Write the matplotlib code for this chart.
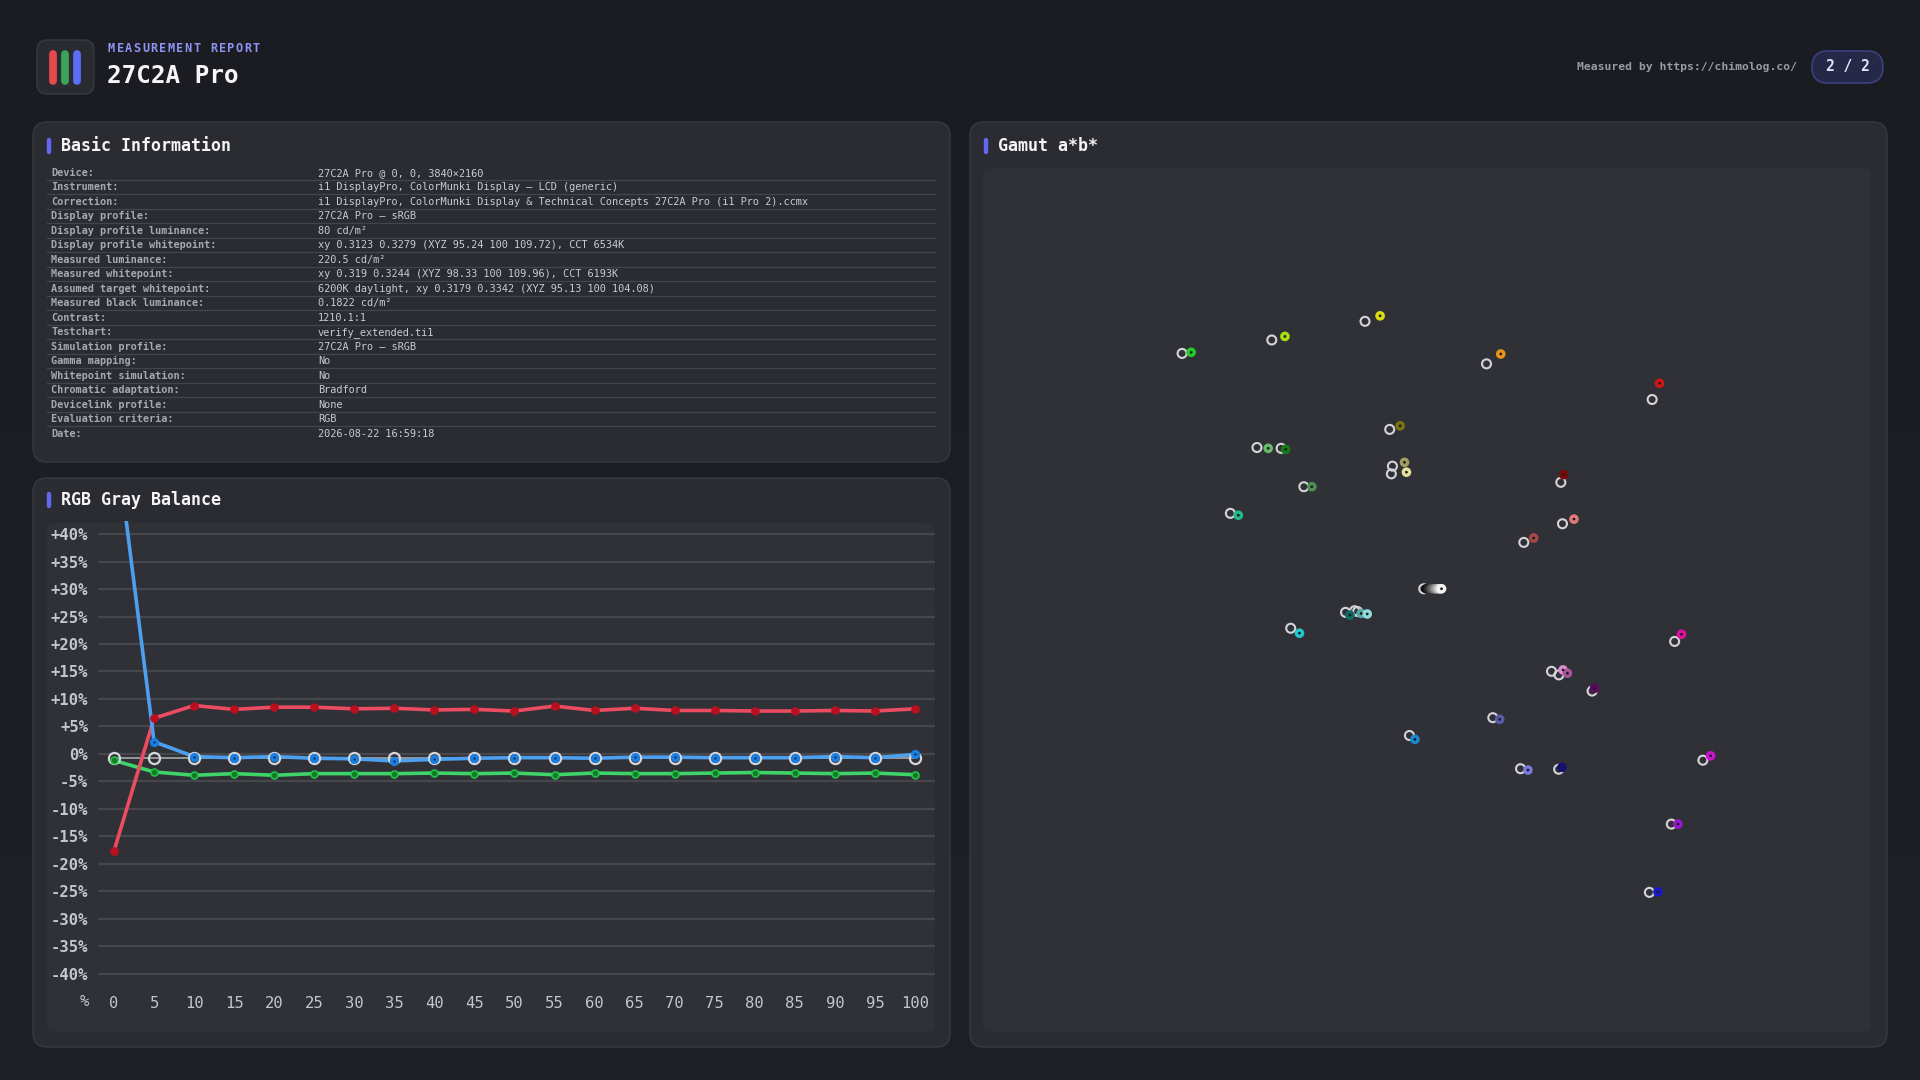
import numpy as np
import matplotlib
matplotlib.use('Agg')
import matplotlib.pyplot as plt
from matplotlib.patches import FancyBboxPatch

W, H = 1920, 1080
MONO = 'DejaVu Sans Mono'

# ---- header text
report_label = 'MEASUREMENT REPORT'
device_name = '27C2A Pro'
credit = 'Measured by https://chimolog.co/'
page_label = '2 / 2'

# ---- basic information table
info_keys = ['Device:', 'Instrument:', 'Correction:', 'Display profile:',
             'Display profile luminance:', 'Display profile whitepoint:',
             'Measured luminance:', 'Measured whitepoint:',
             'Assumed target whitepoint:', 'Measured black luminance:',
             'Contrast:', 'Testchart:', 'Simulation profile:', 'Gamma mapping:',
             'Whitepoint simulation:', 'Chromatic adaptation:',
             'Devicelink profile:', 'Evaluation criteria:', 'Date:']
info_values = ['27C2A Pro @ 0, 0, 3840×2160',
               'i1 DisplayPro, ColorMunki Display – LCD (generic)',
               'i1 DisplayPro, ColorMunki Display & Technical Concepts 27C2A Pro (i1 Pro 2).ccmx',
               '27C2A Pro – sRGB',
               '80 cd/m²',
               'xy 0.3123 0.3279 (XYZ 95.24 100 109.72), CCT 6534K',
               '220.5 cd/m²',
               'xy 0.319 0.3244 (XYZ 98.33 100 109.96), CCT 6193K',
               '6200K daylight, xy 0.3179 0.3342 (XYZ 95.13 100 104.08)',
               '0.1822 cd/m²',
               '1210.1:1',
               'verify_extended.ti1',
               '27C2A Pro – sRGB',
               'No', 'No', 'Bradford', 'None', 'RGB',
               '2026-08-22 16:59:18']

# ---- RGB gray balance (% deviation per gray level)
gray_levels = [0, 5, 10, 15, 20, 25, 30, 35, 40, 45, 50,
               55, 60, 65, 70, 75, 80, 85, 90, 95, 100]
red_dev = [-17.7, 6.5, 8.8, 8.1, 8.5, 8.5, 8.2, 8.3, 8.0, 8.1, 7.8,
           8.7, 7.9, 8.3, 7.9, 7.9, 7.8, 7.8, 7.9, 7.8, 8.2]
green_dev = [-1.2, -3.3, -3.9, -3.6, -3.9, -3.6, -3.6, -3.6, -3.5, -3.6, -3.5,
             -3.8, -3.5, -3.6, -3.6, -3.5, -3.4, -3.5, -3.6, -3.5, -3.8]
blue_dev = [60.0, 2.2, -0.5, -0.7, -0.5, -0.8, -0.9, -1.3, -1.0, -0.8, -0.7,
            -0.7, -0.8, -0.6, -0.6, -0.7, -0.7, -0.7, -0.5, -0.7, -0.1]
ref_dev = [-0.7, -0.7, -0.7, -0.7, -0.7, -0.7, -0.7, -0.7, -0.7, -0.7, -0.7,
           -0.7, -0.7, -0.7, -0.7, -0.7, -0.7, -0.7, -0.7, -0.7, -0.7]

# ---- gamut a*b* (reference vs measured)
ref_a = [-91.5, -58.8, -24.8, 19.5, 79.9, -15.8, -64.2, -55.4, -14.8, -15.2,
         -47.1, -73.9, 46.6, 47.2, 33.1, -31.9, -28.6, -27.5, -51.9, 88.1,
         43.2, 45.9, 58.0, 21.8, -8.6, 31.9, 45.8, 98.4, 86.9, 78.9]
ref_b = [85.8, 90.7, 97.5, 82.0, 69.0, 58.1, 51.5, 51.2, 44.7, 41.9,
         37.2, 27.5, 38.8, 23.7, 16.9, -8.6, -8.0, -8.3, -14.4, -19.2,
         -30.1, -31.4, -37.3, -47.0, -53.5, -65.6, -65.8, -62.5, -85.8, -110.7]
meas_a = [-88.2, -54.0, -19.3, 24.7, 82.6, -12.0, -60.1, -53.7, -10.4, -9.7,
          -44.2, -71.0, 47.6, 51.4, 36.7, -30.3, -26.2, -24.0, -48.7, 90.6,
          47.4, 49.0, 58.9, 24.3, -6.6, 34.6, 47.0, 101.2, 89.3, 82.0]
meas_b = [86.2, 92.0, 99.5, 85.6, 74.9, 59.4, 51.2, 50.8, 46.1, 42.5,
          37.2, 26.8, 41.6, 25.4, 18.5, -9.6, -9.0, -9.2, -16.2, -16.6,
          -29.6, -30.8, -36.3, -47.6, -54.9, -66.1, -65.1, -60.9, -85.8, -110.5]
meas_colors = ['#22cc22', '#aadd11', '#dddd11', '#e8961a', '#d01515',
               '#7a7410', '#66bb66', '#147a14', '#a09a60', '#e6e29a',
               '#4f8f4f', '#22bb88', '#7a0a0a', '#e07a7a', '#aa4848',
               '#0f6a6a', '#5aa5a5', '#8fdcdc', '#22c8cc', '#dd1199',
               '#e08ad0', '#a65596', '#5a0a5a', '#5a5aaa', '#1a88d0',
               '#7a7ad8', '#14107a', '#cc14cc', '#9a18cc', '#1a18cc']
gray_ref_a = [-3.4]
gray_ref_b = [0.0]
gray_a = [-2.5, -2.0, -1.4, -0.8, -0.2, 0.4, 1.0, 1.6, 2.2, 2.7, 3.1]
gray_b = [0.0, 0.0, 0.0, 0.0, 0.0, 0.0, 0.0, 0.0, 0.0, 0.0, 0.0]
gray_colors = ['#080808', '#1c1c1c', '#303030', '#484848', '#606060', '#7a7a7a',
               '#949494', '#b0b0b0', '#cacaca', '#e2e2e2', '#f4f4f4']

PAGE = '#1d1e23'
CARD = '#2b2c31'
CARD_EDGE = '#393a40'
INNER = '#303137'
ACCENT = '#6366f1'

fig = plt.figure(figsize=(W / 100, H / 100), dpi=100)
fig.patch.set_facecolor(PAGE)

# background layer in pixel coordinates
bg = fig.add_axes([0, 0, 1, 1])
bg.set_xlim(0, W)
bg.set_ylim(H, 0)
bg.axis('off')
grad = np.linspace(0, 1, 256)[:, None] * np.ones((1, 4))
bg.imshow(grad, extent=(0, W, H, 0), cmap=matplotlib.colors.LinearSegmentedColormap.from_list(
    'pg', ['#1b1c22', '#202126']), aspect='auto', zorder=0)


def rbox(x0, y0, x1, y1, r, fc, ec=None, lw=1.0, z=1):
    bg.add_patch(FancyBboxPatch((x0, y0), x1 - x0, y1 - y0,
                                boxstyle=f'round,pad=0,rounding_size={r}',
                                fc=fc, ec=ec if ec else 'none', lw=lw, zorder=z))


def card_title(x, y, text):
    bg.plot([x, x], [y - 6, y + 6], color=ACCENT, lw=3.2, solid_capstyle='round', zorder=3)
    bg.text(x + 12, y, text, color='#f4f4f6', fontsize=12, fontweight='bold',
            family=MONO, va='center', ha='left', zorder=3)


# header
rbox(37, 40, 94, 94, 10, '#2a2b30', '#3a3b41', 1.0, 2)
for bx, bc in zip([53, 65, 77], ['#e5484d', '#3aa55a', '#5b6ef5']):
    bg.plot([bx, bx], [54, 81], color=bc, lw=5.6, solid_capstyle='round', zorder=3)
for i, ch in enumerate(report_label):
    bg.text(108 + i * 8.5, 49, ch, color='#8e93f3', fontsize=8.6, fontweight='bold',
            family=MONO, va='center', ha='left', zorder=3)
bg.text(107, 76, device_name, color='#f6f6f8', fontsize=17.5, fontweight='bold',
        family=MONO, va='center', ha='left', zorder=3)
bg.text(1797, 67, credit, color='#9a9ca3', fontsize=8.2, fontweight='bold',
        family=MONO, va='center', ha='right', zorder=3)
rbox(1812, 51, 1883, 83, 16, '#252846', '#3c4180', 1.2, 2)
bg.text(1847.5, 67, page_label, color='#e0e3ff', fontsize=10.5, fontweight='bold',
        family=MONO, va='center', ha='center', zorder=3)

# cards
rbox(33, 122, 950, 462, 14, CARD, CARD_EDGE, 1.0)
rbox(33, 478, 950, 1047, 14, CARD, CARD_EDGE, 1.0)
rbox(970, 122, 1887, 1047, 14, CARD, CARD_EDGE, 1.0)
card_title(49, 146, 'Basic Information')
card_title(49, 500, 'RGB Gray Balance')
card_title(986, 146, 'Gamut a*b*')
rbox(47, 523, 935, 1032, 8, INNER, z=1.5)
rbox(983, 168, 1871, 1032, 8, INNER, z=1.5)

# info table
row0, row_h = 172.7, 14.49
for i, (k, v) in enumerate(zip(info_keys, info_values)):
    y = row0 + i * row_h
    bg.text(51, y, k, color='#a6a9b0', fontsize=7.4, fontweight='bold',
            family=MONO, va='center', ha='left', zorder=3)
    bg.text(318, y, v, color='#c9cbd1', fontsize=7.4,
            family=MONO, va='center', ha='left', zorder=3)
    if i < len(info_keys) - 1:
        bg.plot([47, 935], [y + row_h / 2, y + row_h / 2], color='#44454b', lw=0.9, zorder=2)

# ---- gray balance axes
ax = fig.add_axes([98 / W, 1 - 990 / H, (935 - 98) / W, (990 - 521) / H])
ax.set_facecolor('none')
ax.set_xlim(-2.0, 102.5)
ax.set_ylim(-43.0, 42.4)
yt = list(range(-40, 45, 5))
ax.set_yticks(yt)
ax.set_yticklabels([('0%' if v == 0 else f'{v:+d}%') for v in yt])
ax.set_xticks(gray_levels)
ax.set_xticklabels([str(v) for v in gray_levels])
ax.tick_params(length=0, colors='#c3c6ce')
ax.tick_params(axis='y', pad=7)
ax.tick_params(axis='x', pad=4)
for lb in ax.get_yticklabels():
    lb.set_fontfamily(MONO)
    lb.set_fontsize(11.2)
    lb.set_fontweight('bold')
for lb in ax.get_xticklabels():
    lb.set_fontfamily(MONO)
    lb.set_fontsize(11.2)
ax.grid(axis='y', color='#46474d', lw=1.6)
ax.set_axisbelow(True)
for s in ax.spines.values():
    s.set_visible(False)
bg.text(89, 1001.5, '%', color='#c3c6ce', fontsize=11.2, family=MONO,
        va='center', ha='right', zorder=3)

ax.plot(gray_levels, ref_dev, color='#a8a8ac', lw=1.2, zorder=2)
ax.plot(gray_levels, green_dev, color='#3fd46a', lw=2.6, zorder=3)
ax.plot(gray_levels, red_dev, color='#ec4c62', lw=2.6, zorder=3)
ax.plot(gray_levels, blue_dev, color='#4d9ff0', lw=2.6, zorder=4)
ax.plot(gray_levels, ref_dev, ls='none', marker='o', ms=8.0, mfc='none',
        mec='#d6d6da', mew=1.6, zorder=5)
ax.plot(gray_levels, red_dev, ls='none', marker='o', ms=5.2, mfc='#b8101e',
        mec='#b8101e', zorder=6)
ax.plot(gray_levels, green_dev, ls='none', marker='o', ms=5.0, mfc='#137a25',
        mec='#22c04a', mew=1.2, zorder=6)
ax.plot(gray_levels[1:], blue_dev[1:], ls='none', marker='o', ms=5.6, mfc='#1a7fe0',
        mec='#1a7fe0', zorder=6)
ax.plot(gray_levels[1:], blue_dev[1:], ls='none', marker='o', ms=1.6, mfc='#0a2a55',
        mec='none', zorder=7)

# ---- gamut axes
gx = fig.add_axes([983 / W, 1 - 1032 / H, (1871 - 983) / W, (1032 - 168) / H])
gx.set_facecolor('none')
gx.set_xlim(-164.1, 159.7)
gx.set_ylim(-161.6, 153.4)
gx.axis('off')
gx.scatter(ref_a + gray_ref_a, ref_b + gray_ref_b, s=42, facecolors='none',
           edgecolors='#d4d4d8', linewidths=1.5, zorder=2)
gx.scatter(gray_a, gray_b, s=48, c=gray_colors, edgecolors='none', zorder=3)
gx.scatter(meas_a, meas_b, s=48, c=meas_colors, edgecolors='none', zorder=3)
gx.scatter(meas_a + gray_a[-1:], meas_b + gray_b[-1:], s=4, c='#1a1b1f',
           edgecolors='none', zorder=4)

fig.savefig('out.png', dpi=100, facecolor=fig.get_facecolor())
